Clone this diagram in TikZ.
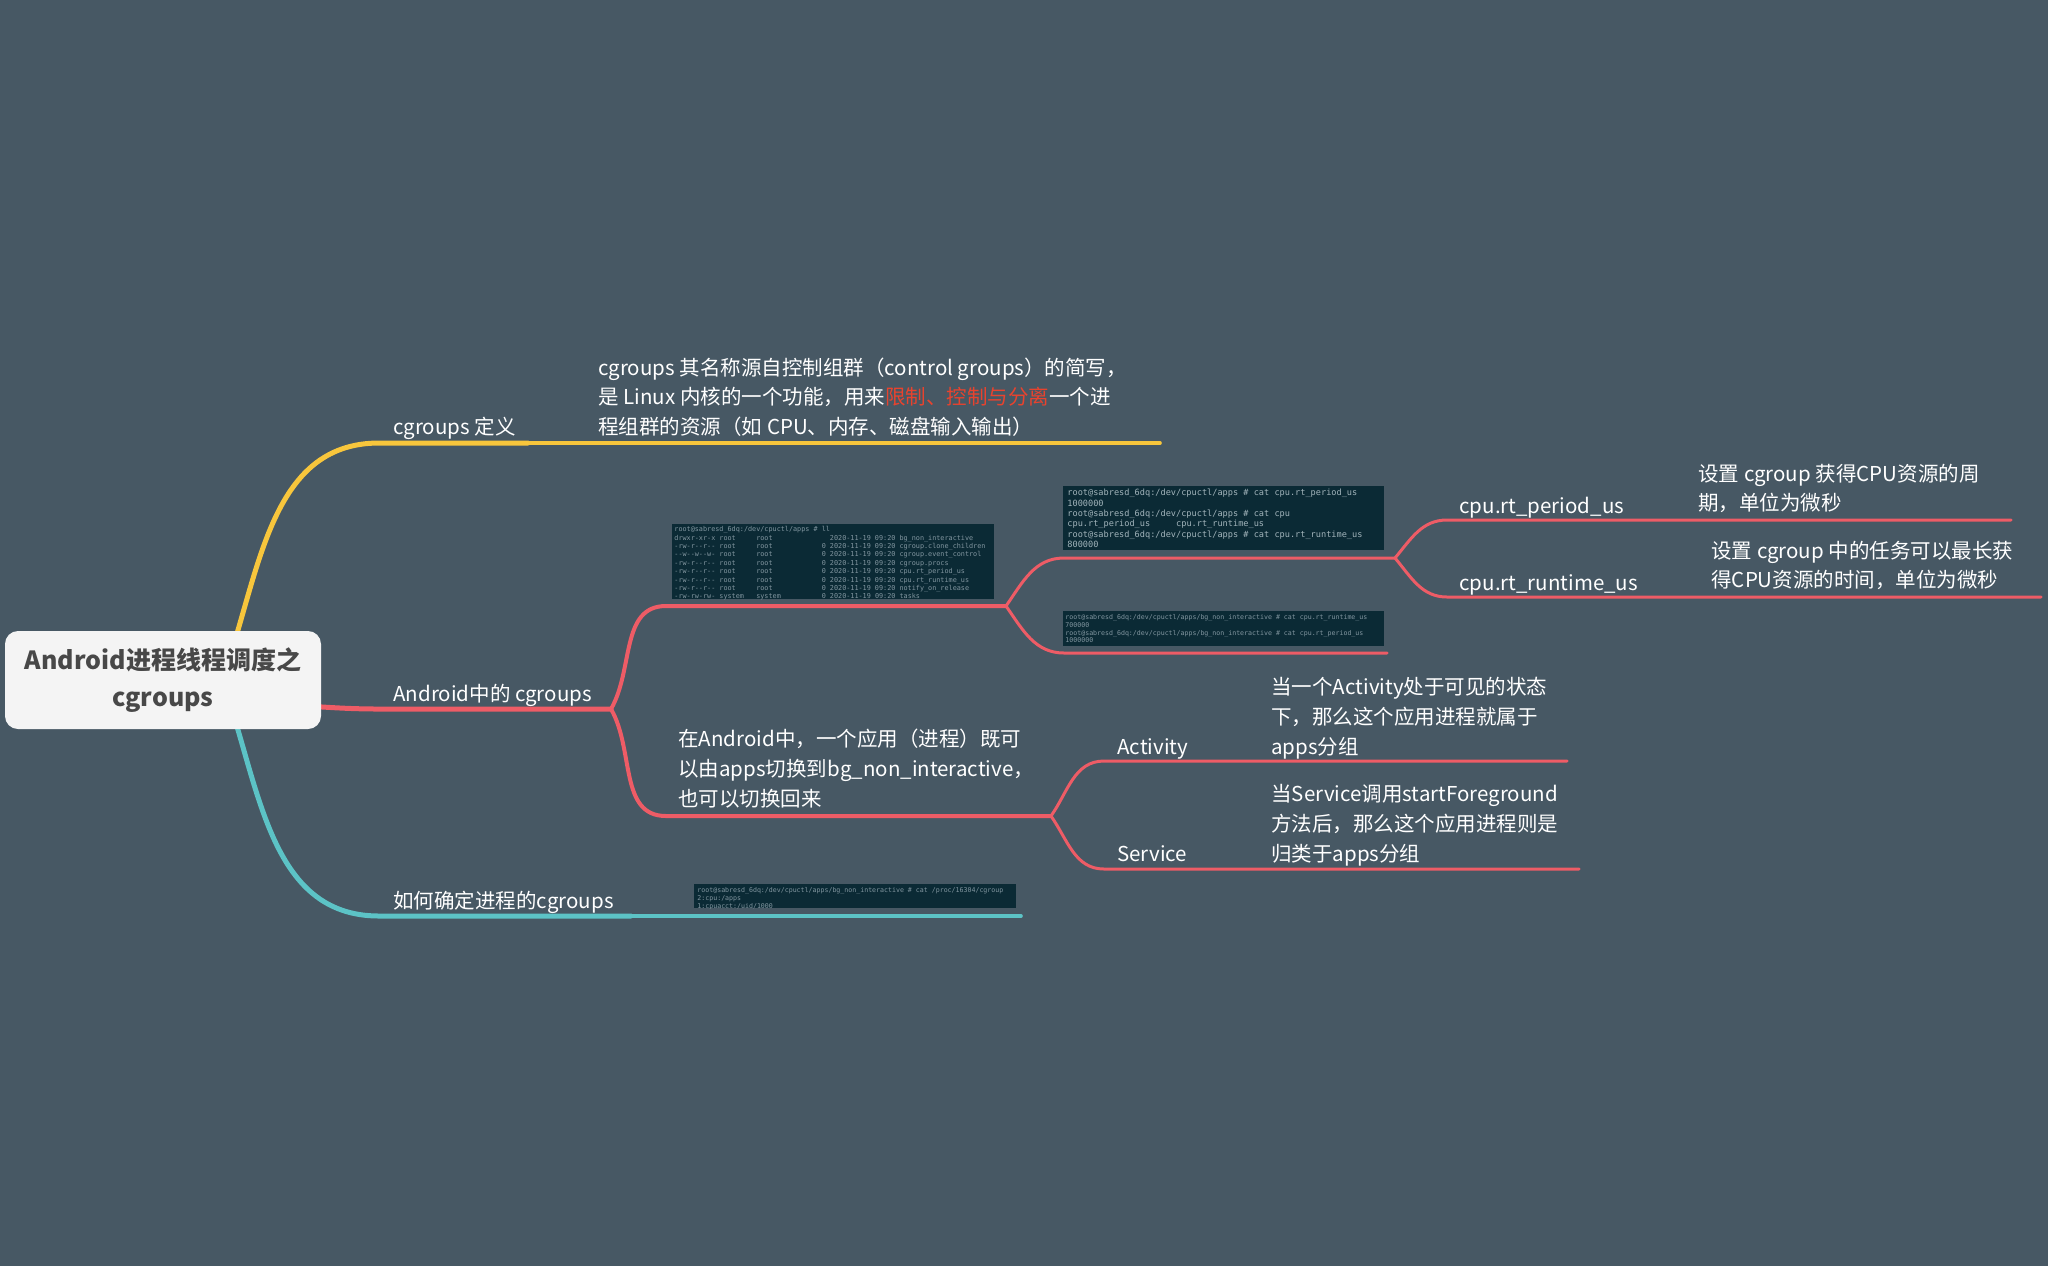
\documentclass[tikz,border=0pt]{standalone}
\usepackage{fontspec}
\setmainfont{Noto Sans CJK SC}
\setmonofont{DejaVu Sans Mono}
\definecolor{bgc}{HTML}{475864}
\definecolor{cy}{HTML}{F8C63C}
\definecolor{cr}{HTML}{EE5C66}
\definecolor{ct}{HTML}{5CC3C6}
\definecolor{hl}{HTML}{E8432E}
\definecolor{rootfill}{HTML}{F4F4F4}
\definecolor{roottext}{HTML}{484848}
\definecolor{termbg}{HTML}{0B2A35}
\definecolor{termtx}{HTML}{8296A0}
\definecolor{termtxb}{HTML}{A2B4BB}
\newcommand\lblfont{\fontsize{10.25}{12}\selectfont}
\newcommand\rootfont{\fontsize{12.5}{18.5}\selectfont\bfseries}
\newcommand\termA{\ttfamily\fontsize{3.4}{4.2}\selectfont\def~{\kern0.602em}}
\newcommand\termB{\ttfamily\fontsize{4.3}{5.15}\selectfont\def~{\kern0.602em}}
\newcommand\termC{\ttfamily\fontsize{3.3}{3.9}\selectfont\def~{\kern0.602em}}
\begin{document}
\begin{tikzpicture}[x=0.5pt,y=-0.5pt,
  lbl/.style={anchor=base west,inner sep=0pt,text=white,font=\lblfont},
  mainln/.style={line width=2.5pt,line cap=round},
  lvlln/.style={line width=2pt,line cap=round},
  leafln/.style={line width=1.5pt,line cap=round},
  termbox/.style={anchor=north west,fill=termbg,inner sep=0pt},
  termtext/.style={anchor=north west,inner sep=0pt,align=left,text=termtx},
  rootbox/.style={fill=rootfill,rounded corners=6.5pt,minimum width=158pt,minimum height=49pt,
    align=center,text=roottext,font=\rootfont,inner sep=0pt}]
\fill[bgc] (0,0) rectangle (2048,1266);
\useasboundingbox (0,0) rectangle (2048,1266);

% ---------- coordinates ----------
\coordinate (yA) at (222,680);
\coordinate (yB) at (379,443);
\coordinate (yC) at (528,443);
\coordinate (yD) at (1160,443);

\coordinate (rA) at (250,704);
\coordinate (rB) at (379,709);
\coordinate (rC) at (611,709);
\coordinate (r1a) at (666,606);
\coordinate (r1b) at (1006,606);
\coordinate (r2a) at (666,816);
\coordinate (r2b) at (1051,816);
\coordinate (r11a) at (1064,558);
\coordinate (r11b) at (1395,558);
\coordinate (r12a) at (1064,653);
\coordinate (r12b) at (1387,653);
\coordinate (p1) at (1447,520);
\coordinate (p2) at (1622,520);
\coordinate (p3) at (2011,520);
\coordinate (q1) at (1447,597);
\coordinate (q2) at (1634,597);
\coordinate (q3) at (2041,597);
\coordinate (a1) at (1104,761);
\coordinate (a2) at (1200,761);
\coordinate (a3) at (1567,761);
\coordinate (s1) at (1104,869);
\coordinate (s2) at (1200,869);
\coordinate (s3) at (1579,869);

\coordinate (tA) at (222,680);
\coordinate (tB) at (379,916);
\coordinate (tC) at (631,916);
\coordinate (tD) at (1021,916);

% ---------- connectors ----------
\draw[mainln,draw=cy] (yA) to[out=70,in=180] (yB) -- (yC);
\draw[leafln,draw=cy,line width=1.8pt] (yC) -- (yD);

\draw[mainln,draw=cr] (rA) to[out=0,in=180] (rB) -- (rC);
\draw[lvlln,draw=cr] (rC) to[out=60,in=180] (r1a) -- (r1b);
\draw[lvlln,draw=cr] (rC) to[out=-60,in=180] (r2a) -- (r2b);
\draw[leafln,draw=cr] (r1b) to[out=55,in=180] (r11a) -- (r11b);
\draw[leafln,draw=cr] (r1b) to[out=-55,in=180] (r12a) -- (r12b);
\draw[leafln,draw=cr] (r11b) to[out=50,in=180] (p1) -- (p2) -- (p3);
\draw[leafln,draw=cr] (r11b) to[out=-50,in=180] (q1) -- (q2) -- (q3);
\draw[leafln,draw=cr] (r2b) to[out=55,in=180] (a1) -- (a2) -- (a3);
\draw[leafln,draw=cr] (r2b) to[out=-55,in=180] (s1) -- (s2) -- (s3);

\draw[mainln,draw=ct] (tA) to[out=-70,in=180] (tB) -- (tC);
\draw[leafln,draw=ct,line width=1.8pt] (tC) -- (tD);

% ---------- root ----------
\node[rootbox] (root) at (163,680) {Android进程线程调度之\\cgroups};

% ---------- yellow branch ----------
\node[lbl] (l1) at (393,434) {cgroups 定义};
\node[lbl] (d1a) at (598,375) {cgroups 其名称源自控制组群（control groups）的简写，};
\node[lbl] (d1b) at (598,404) {是 Linux 内核的一个功能，用来{\color{hl}限制、控制与分离}一个进};
\node[lbl] (d1c) at (598,434) {程组群的资源（如 CPU、内存、磁盘输入输出）};

% ---------- red branch ----------
\node[lbl] (l2) at (393,701) {Android中的 cgroups};

\node[termbox,minimum width=161pt,minimum height=37.5pt] (t1) at (672,524) {};
\node[termtext,font=\termA] (t1txt) at (674,526) {root@sabresd\_6dq:/dev/cpuctl/apps~\#~ll\\
drwxr-xr-x~root~~~~~root~~~~~~~~~~~~~~2020-11-19~09:20~bg\_non\_interactive\\
-rw-r--r--~root~~~~~root~~~~~~~~~~~~0~2020-11-19~09:20~cgroup.clone\_children\\
--w--w--w-~root~~~~~root~~~~~~~~~~~~0~2020-11-19~09:20~cgroup.event\_control\\
-rw-r--r--~root~~~~~root~~~~~~~~~~~~0~2020-11-19~09:20~cgroup.procs\\
-rw-r--r--~root~~~~~root~~~~~~~~~~~~0~2020-11-19~09:20~cpu.rt\_period\_us\\
-rw-r--r--~root~~~~~root~~~~~~~~~~~~0~2020-11-19~09:20~cpu.rt\_runtime\_us\\
-rw-r--r--~root~~~~~root~~~~~~~~~~~~0~2020-11-19~09:20~notify\_on\_release\\
-rw-rw-rw-~system~~~system~~~~~~~~~~0~2020-11-19~09:20~tasks};

\node[termbox,minimum width=160.5pt,minimum height=32pt] (t2) at (1063,486) {};
\node[termtext,text=termtxb,font=\termB] (t2txt) at (1067,489) {root@sabresd\_6dq:/dev/cpuctl/apps~\#~cat~cpu.rt\_period\_us\\
1000000\\
root@sabresd\_6dq:/dev/cpuctl/apps~\#~cat~cpu\\
cpu.rt\_period\_us~~~~~cpu.rt\_runtime\_us\\
root@sabresd\_6dq:/dev/cpuctl/apps~\#~cat~cpu.rt\_runtime\_us\\
800000};

\node[termbox,minimum width=160.5pt,minimum height=17.5pt] (t3) at (1063,611) {};
\node[termtext,font=\termC] (t3txt) at (1065,614) {root@sabresd\_6dq:/dev/cpuctl/apps/bg\_non\_interactive~\#~cat~cpu.rt\_runtime\_us\\
700000\\
root@sabresd\_6dq:/dev/cpuctl/apps/bg\_non\_interactive~\#~cat~cpu.rt\_period\_us\\
1000000};

\node[lbl] (l21) at (1459,513) {cpu.rt\_period\_us};
\node[lbl] (d21a) at (1698,481) {设置 cgroup 获得CPU资源的周};
\node[lbl] (d21b) at (1698,510) {期，单位为微秒};
\node[lbl] (l22) at (1459,590) {cpu.rt\_runtime\_us};
\node[lbl] (d22a) at (1711,558) {设置 cgroup 中的任务可以最长获};
\node[lbl] (d22b) at (1711,587) {得CPU资源的时间，单位为微秒};

\node[lbl] (d2a) at (678,746) {在Android中，一个应用（进程）既可};
\node[lbl] (d2b) at (678,776) {以由apps切换到bg\_non\_interactive，};
\node[lbl] (d2c) at (678,806) {也可以切换回来};

\node[lbl] (l31) at (1117,754) {Activity};
\node[lbl] (d31a) at (1271,694) {当一个Activity处于可见的状态};
\node[lbl] (d31b) at (1271,724) {下，那么这个应用进程就属于};
\node[lbl] (d31c) at (1271,754) {apps分组};

\node[lbl] (l32) at (1117,861) {Service};
\node[lbl] (d32a) at (1271,801) {当Service调用startForeground};
\node[lbl] (d32b) at (1271,831) {方法后，那么这个应用进程则是};
\node[lbl] (d32c) at (1271,861) {归类于apps分组};

% ---------- teal branch ----------
\node[lbl] (l3) at (393,908) {如何确定进程的cgroups};
\node[termbox,minimum width=161pt,minimum height=12pt] (t4) at (694,884) {};
\begin{scope}
\clip (694,884) rectangle (1016,908);
\node[termtext,font=\termC] (t4txt) at (697,887) {root@sabresd\_6dq:/dev/cpuctl/apps/bg\_non\_interactive~\#~cat~/proc/16304/cgroup\\
2:cpu:/apps\\
1:cpuacct:/uid/1000};
\end{scope}
\end{tikzpicture}
\end{document}
